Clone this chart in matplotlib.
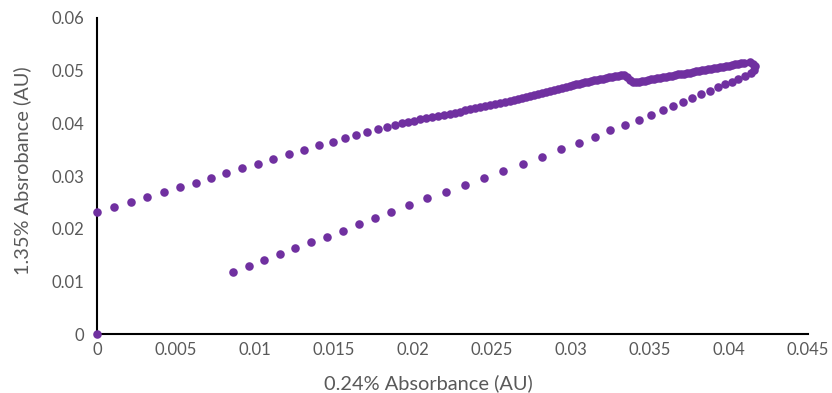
import matplotlib
matplotlib.use("Agg")
import matplotlib.pyplot as plt

# lower branch (rising, sparse dots), ending at the tip of the loop
low_x = [0.00863, 0.00960, 0.01057, 0.01156, 0.01255, 0.01354, 0.01454, 0.01555,
         0.01656, 0.01758, 0.01861, 0.01972, 0.02087, 0.02209, 0.02329, 0.02448,
         0.02572, 0.02696, 0.02817, 0.02937, 0.03051, 0.03154, 0.03249, 0.03342,
         0.03429, 0.03508, 0.03580, 0.03648, 0.03709, 0.03768, 0.03825, 0.03880,
         0.03930, 0.03975, 0.04017, 0.04059, 0.04101, 0.04136, 0.04158]
low_y = [0.01183, 0.01285, 0.01399, 0.01513, 0.01627, 0.01741, 0.01848, 0.01961,
         0.02083, 0.02199, 0.02318, 0.02444, 0.02577, 0.02691, 0.02823, 0.02956,
         0.03089, 0.03228, 0.03366, 0.03507, 0.03632, 0.03746, 0.03868, 0.03963,
         0.04069, 0.04158, 0.04248, 0.04323, 0.04405, 0.04481, 0.04557, 0.04623,
         0.04684, 0.04741, 0.04791, 0.04842, 0.04899, 0.04956, 0.05022]

# upper branch (returning, dense near the tip, sparse toward x = 0)
up_x = [0.04165, 0.04152, 0.04133, 0.04095, 0.04076, 0.04057, 0.04038, 0.04019,
        0.04000, 0.03981, 0.03962, 0.03943, 0.03924, 0.03905, 0.03886, 0.03867,
        0.03848, 0.03829, 0.03810, 0.03791, 0.03772, 0.03753, 0.03734, 0.03715,
        0.03696, 0.03677, 0.03658, 0.03639, 0.03620, 0.03601, 0.03582, 0.03563,
        0.03544, 0.03525, 0.03506, 0.03487, 0.03468, 0.03449, 0.03430, 0.03411,
        0.03392, 0.03373, 0.03354, 0.03335, 0.03317, 0.03298, 0.03279, 0.03260,
        0.03241, 0.03222, 0.03203, 0.03184, 0.03165, 0.03146, 0.03127, 0.03108,
        0.03089, 0.03070, 0.03051, 0.03032, 0.03013, 0.02994, 0.02968, 0.02943,
        0.02918, 0.02892, 0.02867, 0.02842, 0.02817, 0.02791, 0.02766, 0.02741,
        0.02715, 0.02690, 0.02665, 0.02639, 0.02614, 0.02582, 0.02551, 0.02519,
        0.02487, 0.02456, 0.02424, 0.02392, 0.02361, 0.02329, 0.02298, 0.02266,
        0.02234, 0.02196, 0.02158, 0.02120, 0.02082, 0.02044, 0.02006, 0.01968,
        0.01930, 0.01884, 0.01834, 0.01777, 0.01711, 0.01641, 0.01568, 0.01492,
        0.01405, 0.01312, 0.01213, 0.01116, 0.01017, 0.00916, 0.00817, 0.00722,
        0.00627, 0.00525, 0.00422, 0.00317, 0.00215, 0.00110, 0.0]
up_y = [0.05089, 0.05136, 0.05159, 0.05149, 0.05140, 0.05130, 0.05119, 0.05108,
        0.05098, 0.05089, 0.05079, 0.05070, 0.05060, 0.05051, 0.05037, 0.05028,
        0.05016, 0.05007, 0.04997, 0.04986, 0.04975, 0.04965, 0.04956, 0.04946,
        0.04937, 0.04929, 0.04918, 0.04908, 0.04899, 0.04889, 0.04880, 0.04870,
        0.04857, 0.04846, 0.04834, 0.04823, 0.04811, 0.04800, 0.04789, 0.04777,
        0.04785, 0.04832, 0.04889, 0.04914, 0.04912, 0.04902, 0.04893, 0.04884,
        0.04874, 0.04863, 0.04851, 0.04838, 0.04827, 0.04815, 0.04804, 0.04792,
        0.04779, 0.04766, 0.04752, 0.04741, 0.04728, 0.04713, 0.04697, 0.04680,
        0.04661, 0.04642, 0.04623, 0.04604, 0.04584, 0.04565, 0.04544, 0.04525,
        0.04506, 0.04487, 0.04468, 0.04447, 0.04430, 0.04407, 0.04386, 0.04365,
        0.04344, 0.04323, 0.04303, 0.04284, 0.04263, 0.04244, 0.04223, 0.04204,
        0.04185, 0.04162, 0.04139, 0.04116, 0.04094, 0.04073, 0.04050, 0.04027,
        0.04006, 0.03963, 0.03925, 0.03887, 0.03835, 0.03784, 0.03722, 0.03651,
        0.03583, 0.03499, 0.03412, 0.03323, 0.03234, 0.03146, 0.03057, 0.02968,
        0.02873, 0.02791, 0.02696, 0.02601, 0.02506, 0.02417, 0.02322]

# stray point at the origin
zero_x = [0.0]
zero_y = [0.0]

purple = "#7030A0"
grey = "#595959"
plt.rcParams['font.family'] = ['Lato', 'DejaVu Sans']

fig = plt.figure(figsize=(8.32, 3.93), dpi=100)
ax = fig.add_axes([0.1166, 0.1501, 0.8546, 0.8041])

for xs, ys in [(zero_x, zero_y), (low_x, low_y), (up_x, up_y)]:
    ax.scatter(xs, ys, s=38, color=purple, linewidths=0, clip_on=False, zorder=3)

ax.set_xlim(0, 0.045)
ax.set_ylim(0, 0.06)
ax.set_xticks([0, 0.005, 0.01, 0.015, 0.02, 0.025, 0.03, 0.035, 0.04, 0.045])
ax.set_xticklabels(['0', '0.005', '0.01', '0.015', '0.02', '0.025', '0.03',
                    '0.035', '0.04', '0.045'])
ax.set_yticks([0, 0.01, 0.02, 0.03, 0.04, 0.05, 0.06])
ax.set_yticklabels(['0', '0.01', '0.02', '0.03', '0.04', '0.05', '0.06'])

for side in ['top', 'right']:
    ax.spines[side].set_visible(False)
for side in ['left', 'bottom']:
    ax.spines[side].set_color('black')
    ax.spines[side].set_linewidth(1.5)
ax.spines['left'].set_zorder(2)

ax.tick_params(axis='both', length=0, labelsize=12, colors=grey)
ax.tick_params(axis='y', pad=9)
ax.tick_params(axis='x', pad=6)

ax.set_xlabel('0.24% Absorbance (AU)', fontsize=14.4, color=grey)
ax.set_ylabel('1.35% Absrobance (AU)', fontsize=14.4, color=grey)
ax.xaxis.set_label_coords(0.466, -0.155)
ax.yaxis.set_label_coords(-0.1055, 0.516)
ax.xaxis.label.set_va('center')
ax.yaxis.label.set_va('center')

fig.savefig('out.png', dpi=100)
